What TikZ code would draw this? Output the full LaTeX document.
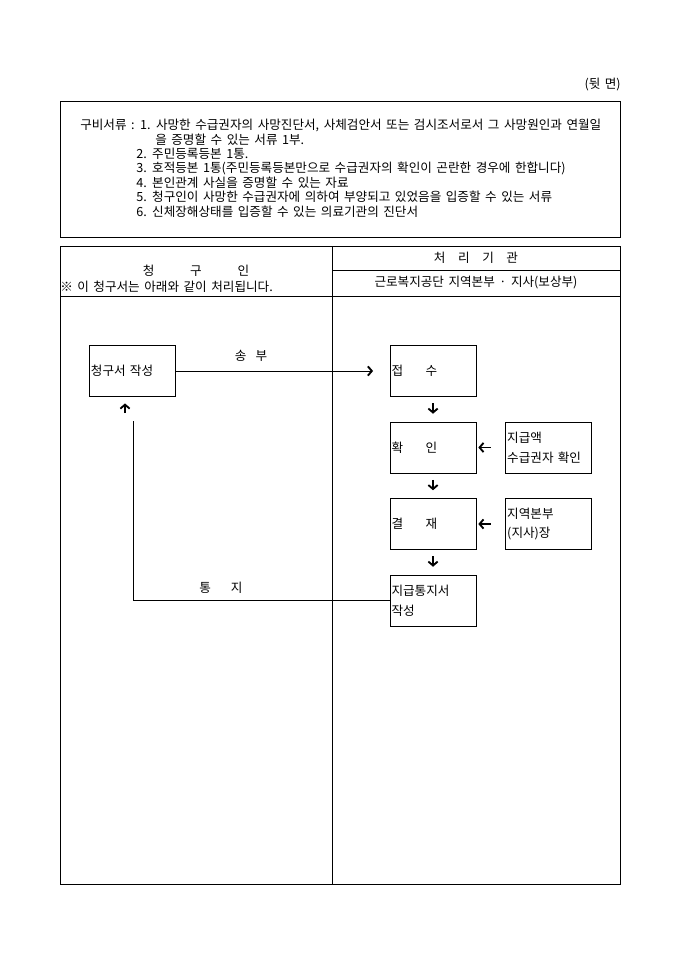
\documentclass[tikz,border=0pt]{standalone}
\usepackage{fontspec}
\setmainfont[WordSpace=1.6]{Noto Sans CJK KR}
\usetikzlibrary{positioning,calc,arrows.meta}

\begin{document}
\begin{tikzpicture}[
    x=0.0265cm, y=-0.0265cm,
    node distance=0.66cm,
    font=\fontsize{9.5}{11}\selectfont,
    frame/.style={draw, line width=0.7pt},
    txt/.style={inner sep=0pt, anchor=west},
    tip/.style={-{Straight Barb[length=3pt,width=7pt,line width=1.4pt]}},
    stepbox/.style={rectangle, draw, line width=0.5pt,
        text width=2.2cm, inner xsep=0.04cm, inner ysep=0pt,
        minimum height=1.35cm, align=left,
        font=\fontsize{9.5}{15}\selectfont}
  ]
  \useasboundingbox (0,0) rectangle (680,962);

  \node[anchor=east, inner sep=0pt] (side) at (621,85) {(뒷 면)};

  % 구비서류
  \draw[frame] (60,101) rectangle (620,237);
  \node[txt] (l1) at (80,125) {구비서류 : 1. 사망한 수급권자의 사망진단서, 사체검안서 또는 검시조서로서 그 사망원인과 연월일};
  \node[txt] (l2) at (155,140) {을 증명할 수 있는 서류 1부.};
  \node[txt] (l3) at (136,154) {2. 주민등록등본 1통.};
  \node[txt] (l4) at (136,168) {3. 호적등본 1통(주민등록등본만으로 수급권자의 확인이 곤란한 경우에 한합니다)};
  \node[txt] (l5) at (136,183) {4. 본인관계 사실을 증명할 수 있는 자료};
  \node[txt] (l6) at (136,197) {5. 청구인이 사망한 수급권자에 의하여 부양되고 있었음을 입증할 수 있는 서류};
  \node[txt] (l7) at (136,212) {6. 신체장해상태를 입증할 수 있는 의료기관의 진단서};

  % table frame
  \draw[frame] (60,246) rectangle (620,884);
  \draw[frame] (332,246) -- (332,884);
  \draw[line width=0.5pt] (332,270) -- (620,270);
  \draw[line width=0.5pt] (60,296) -- (620,296);
  \node (claimant) at (196,271) {청\hspace{27pt}구\hspace{27pt}인};
  \node[txt] (note) at (60,287) {※ 이 청구서는 아래와 같이 처리됩니다.};
  \node (office) at (476,258) {처\hspace{9.5pt}리\hspace{9.5pt}기\hspace{9.5pt}관};
  \node (branch) at (476,283) {근로복지공단 지역본부 · 지사(보상부)};

  % flow
  \node[stepbox] (write) at (132.5,371) {청구서 작성};
  \node[stepbox] (recv) at (433,371) {접\hspace{17pt}수};
  \node[stepbox, below=of recv] (check) {확\hspace{17pt}인};
  \node[stepbox, below=of check] (approve) {결\hspace{17pt}재};
  \node[stepbox, below=of approve] (notice) {지급통지서\\작성};
  \node[stepbox, right=0.77cm of check] (amount) {지급액\\수급권자 확인};
  \node[stepbox, right=0.77cm of approve] (chief) {지역본부\\(지사)장};

  \draw[tip, line width=0.6pt, shorten >=12.5pt] (write) -- (recv);
  \node (send) at (251,356) {송\hspace{7pt}부};
  \draw[tip, thick, shorten <=5pt, shorten >=6pt] (recv) -- (check);
  \draw[tip, thick, shorten <=5pt, shorten >=6pt] (check) -- (approve);
  \draw[tip, thick, shorten <=5pt, shorten >=6pt] (approve) -- (notice);
  \draw[tip, thick, shorten <=11pt, shorten >=1.5pt] (amount) -- (check);
  \draw[tip, thick, shorten <=11pt, shorten >=1.5pt] (chief) -- (approve);

  \coordinate (fb) at (133,421);
  \draw[line width=0.6pt] (notice.west) -| (fb);
  \node (inform) at (221,588) {통\hspace{15pt}지};
  \coordinate (uptail) at (125,413);
  \draw[tip, thick, shorten >=5pt] (uptail) -- (uptail |- write.south);
\end{tikzpicture}
\end{document}
